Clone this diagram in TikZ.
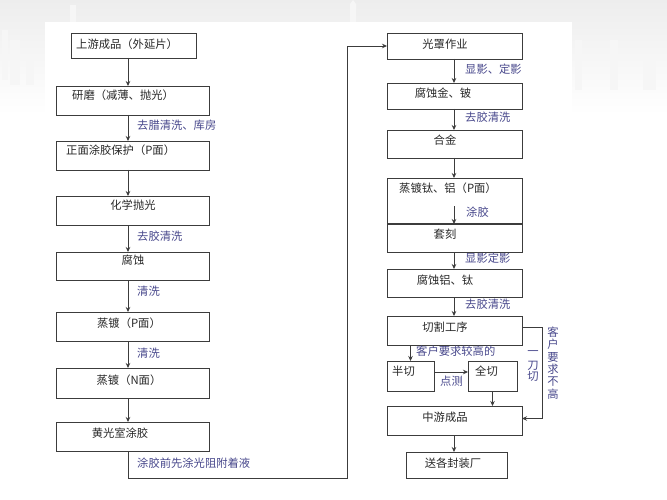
\documentclass[tikz,border=0pt]{standalone}
\usepackage{fontspec}
\setmainfont{Noto Sans CJK SC}
\usetikzlibrary{arrows.meta,calc}
\definecolor{lbl}{RGB}{72,72,140}
\definecolor{ink}{RGB}{40,40,40}
\definecolor{edge}{RGB}{60,60,60}
\tikzset{
  box/.style={draw=edge, line width=0.9pt, rectangle, anchor=north west, inner sep=0pt, outer sep=0pt},
  txt/.style={text=ink, font=\fontsize{11.3}{12}\selectfont, inner sep=0pt},
  lab/.style={text=lbl, font=\fontsize{11.3}{12}\selectfont, inner sep=0pt, anchor=west},
  vlab/.style={text=lbl, font=\fontsize{11.3}{12}\selectfont, inner sep=0pt, align=center},
  conn/.style={draw=edge, line width=0.8pt, -{Stealth[length=5pt,width=4.5pt]}},
  line/.style={draw=edge, line width=0.8pt},
  bld/.style={fill=gray!7}
}
\begin{document}
\begin{tikzpicture}[x=1pt,y=-1pt]
\useasboundingbox (0,0) rectangle (667,500);
% background
\fill[white] (0,0) rectangle (667,500);
\fill[top color=gray!14, bottom color=white] (0,0) rectangle (667,115);
\fill[bld] (2,30) rectangle (8,80); \fill[bld] (10,40) rectangle (20,85); \fill[bld] (26,55) rectangle (34,85);
\fill[bld] (70,5) rectangle (76,22); \fill[bld] (350,4) -- (353,0) -- (356,4) -- (356,22) -- (350,22) -- cycle;
\fill[bld] (575,40) rectangle (582,90); \fill[bld] (610,40) rectangle (618,90); \fill[bld] (643,60) rectangle (656,90);
\fill[white] (45,22) rectangle (572,500);

% left column
\node[box, minimum width=125pt, minimum height=25pt] (b1) at (71,33) {};
\node[box, minimum width=153pt, minimum height=29pt] (b2) at (56,86) {};
\node[box, minimum width=153pt, minimum height=29pt] (b3) at (56,141) {};
\node[box, minimum width=153pt, minimum height=29pt] (b4) at (56,196) {};
\node[box, minimum width=153pt, minimum height=28pt] (b5) at (56,252) {};
\node[box, minimum width=153pt, minimum height=29pt] (b6) at (56,312) {};
\node[box, minimum width=153pt, minimum height=30pt] (b7) at (56,368) {};
\node[box, minimum width=153pt, minimum height=29pt] (b8) at (56,422) {};

\node[txt, anchor=west] (t1) at (76,44) {上游成品（外延片）};
\node[txt, anchor=west] (t2) at (72,95) {研磨（减薄、抛光）};
\node[txt, anchor=west] (t3) at (66,150) {正面涂胶保护（P面）};
\node[txt] (t4) at (133,205) {化学抛光};
\node[txt] (t5) at (133,260) {腐蚀};
\node[txt] (t6) at (129,323) {蒸镀（P面）};
\node[txt] (t7) at (129,380) {蒸镀（N面）};
\node[txt] (t8) at (120,433) {黄光室涂胶};

\coordinate (xL) at (128,0);
\draw[conn] (b1.south -| xL) -- (b2.north -| xL);
\draw[conn] (b2.south -| xL) -- (b3.north -| xL);
\draw[conn] (b3.south -| xL) -- (b4.north -| xL);
\draw[conn] (b4.south -| xL) -- (b5.north -| xL);
\draw[conn] (b5.south -| xL) -- (b6.north -| xL);
\draw[conn] (b6.south -| xL) -- (b7.north -| xL);
\draw[conn] (b7.south -| xL) -- (b8.north -| xL);

\node[lab] (l1) at (137,125) {去腊清洗、库房};
\node[lab] (l2) at (137,236) {去胶清洗};
\node[lab] (l3) at (137,291) {清洗};
\node[lab] (l4) at (137,353) {清洗};
\node[lab] (l5) at (137,463) {涂胶前先涂光阻附着液};

% right column
\node[box, minimum width=135pt, minimum height=26pt] (r1) at (387,33) {};
\node[box, minimum width=135pt, minimum height=26pt] (r2) at (387,83) {};
\node[box, minimum width=135pt, minimum height=28pt] (r3) at (387,130) {};
\node[box, minimum width=135pt, minimum height=46pt] (r4) at (387,178) {};
\node[box, minimum width=135pt, minimum height=28pt] (r5) at (387,224) {};
\node[box, minimum width=135pt, minimum height=28pt] (r6) at (387,269) {};
\node[box, minimum width=135pt, minimum height=29pt] (r7) at (387,316) {};
\node[box, minimum width=47pt, minimum height=30pt] (half) at (387,361) {};
\node[box, minimum width=49pt, minimum height=30pt] (full) at (468,361) {};
\node[box, minimum width=135pt, minimum height=29pt] (mid) at (387,406) {};
\node[box, minimum width=101pt, minimum height=26pt] (send) at (406,452) {};
\draw[line, line width=1.8pt] (r5.north west) -- (r5.north east);

\node[txt] (s1) at (445,44) {光罩作业};
\node[txt] (s2) at (443,93) {腐蚀金、铍};
\node[txt] (s3) at (445,140) {合金};
\node[txt, anchor=west] (s4) at (399,188) {蒸镀钛、铝（P面）};
\node[txt] (s5) at (445,234) {套刻};
\node[txt] (s6) at (445,280) {腐蚀铝、钛};
\node[txt] (s7) at (445,327) {切割工序};
\node[txt, anchor=west] (s8) at (392,371) {半切};
\node[txt, anchor=west] (s9) at (475,371) {全切};
\node[txt] (s10) at (445,417) {中游成品};
\node[txt] (s11) at (453,463) {送各封装厂};

\coordinate (xR) at (454,0);
\coordinate (in4) at (454,206);
\draw[conn] (r1.south -| xR) -- (r2.north -| xR);
\draw[conn] (r2.south -| xR) -- (r3.north -| xR);
\draw[conn] (r3.south -| xR) -- (r4.north -| xR);
\draw[conn] (in4) -- (r5.north -| xR);
\draw[conn] (r5.south -| xR) -- (r6.north -| xR);
\draw[conn] (r6.south -| xR) -- (r7.north -| xR);
\draw[conn] (half.north |- r7.south) -- (half.north);
\draw[conn] ([yshift=4pt]half.east) -- ([yshift=4pt]full.west);
\draw[conn] (full.south) -- (full.south |- mid.north);
\draw[conn] (mid.south -| xR) -- (send.north -| xR);
\coordinate (xB) at (542,0);
\draw[conn] ([yshift=3pt]r7.east) -- ([yshift=3pt]r7.east -| xB) |- ([yshift=2pt]mid.east);

\node[lab] (m1) at (465,69) {显影、定影};
\node[lab] (m2) at (465,117) {去胶清洗};
\node[lab] (m3) at (466,212) {涂胶};
\node[lab] (m4) at (465,258) {显影定影};
\node[lab] (m5) at (465,304) {去胶清洗};
\node[lab] (m6) at (416,351) {客户要求较高的};
\node[lab] (m7) at (440,381) {点测};
\node[vlab] (v1) at (533,366) {一\\[2pt]刀\\[-1pt]切};
\node[vlab, font=\fontsize{11.3}{12.4}\selectfont] (v2) at (553,363) {客\\户\\要\\求\\不\\高};

% loop from left column to right column
\coordinate (c1) at (347,478);
\draw[conn] (b8.south -| xL) |- (c1) |- (r1.west);
\end{tikzpicture}
\end{document}
